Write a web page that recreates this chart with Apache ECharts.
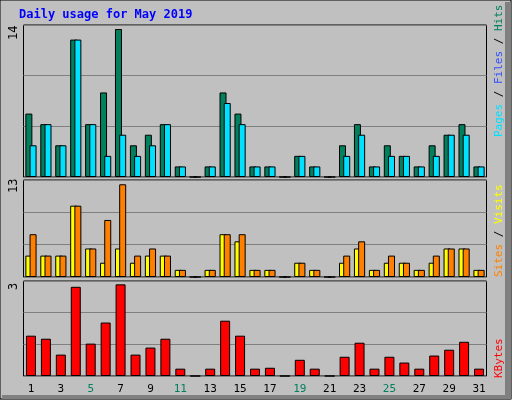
<!DOCTYPE html>
<html><head><meta charset="utf-8">
<script src="https://cdn.jsdelivr.net/npm/echarts@6/dist/echarts.min.js"></script>
<style>html,body{margin:0;padding:0;background:#c0c0c0}#c{width:512px;height:400px}</style>
</head><body><div id="c"></div>
<script>
const days = ['1','2','3','4','5','6','7','8','9','10','11','12','13','14','15','16','17','18','19','20','21','22','23','24','25','26','27','28','29','30','31'];
const weekend = ['4','5','11','12','18','19','25','26'];
const hits  = [6,5,3,13,5,8,14,3,4,5,1,0,1,8,6,1,1,0,2,1,0,3,5,1,3,2,1,3,4,5,1];
const pages = [3,5,3,13,5,2,4,2,3,5,1,0,1,7,5,1,1,0,2,1,0,2,4,1,2,2,1,2,4,4,1];
const sites = [3,3,3,10,4,2,4,2,3,3,1,0,1,6,5,1,1,0,2,1,0,2,4,1,2,2,1,2,4,4,1];
const visits= [6,3,3,10,4,8,13,3,4,3,1,0,1,6,6,1,1,0,2,1,0,3,5,1,3,2,1,3,4,4,1];
const kbytes= [1.32,1.22,0.70,2.92,1.06,1.75,3.0,0.70,0.93,1.22,0.24,0,0.24,1.81,1.32,0.24,0.27,0,0.53,0.24,0,0.63,1.09,0.24,0.63,0.44,0.24,0.67,0.86,1.12,0.24];
const maxLabels = ['14','13','3'];

const ch = echarts.init(document.getElementById('c'));
const mono = 'DejaVu Sans Mono';
const grids = [{top:25,height:152},{top:180,height:97},{top:281,height:95}];
const ymax = [14.38,13.6,3.11];
const bs = {borderColor:'#000',borderWidth:1};
function vtext(x,y,parts){
  return {type:'text',x:x,y:y,rotation:Math.PI/2,style:{rich:{},text:parts.map(p=>'{'+p[1]+'|'+p[0]+'}').join(''),
    font:'11px '+mono,rich:Object.fromEntries(parts.map(p=>[p[1],{fill:p[2],font:'11px '+mono}]))},z:10};
}
ch.setOption({
  animation:false,
  backgroundColor:'#c0c0c0',
  grid:grids.map(g=>({left:23.5,width:463,top:g.top,height:g.height,show:true,borderColor:'#000',borderWidth:1,backgroundColor:'#c0c0c0'})),
  xAxis:[0,1,2].map(i=>({type:'category',gridIndex:i,data:days,axisLine:{show:false},axisTick:{show:false},
    axisLabel:{show:i===2,margin:8,fontFamily:mono,fontSize:11,color:(v)=>weekend.includes(v)?'#00805c':'#000'}})),
  yAxis:[0,1,2].map(i=>({type:'value',gridIndex:i,min:0,max:ymax[i],interval:ymax[i]/3,axisLabel:{show:false},axisLine:{show:false},axisTick:{show:false},
    splitLine:{lineStyle:{color:'#808080',width:1}}})),
  series:[
    {type:'bar',xAxisIndex:0,yAxisIndex:0,data:hits,barWidth:7,barGap:'-40%',itemStyle:Object.assign({color:'#00805c'},bs)},
    {type:'bar',xAxisIndex:0,yAxisIndex:0,data:pages,barWidth:7,barGap:'-40%',itemStyle:Object.assign({color:'#00e0ff'},bs)},
    {type:'bar',xAxisIndex:1,yAxisIndex:1,data:sites,barWidth:7,barGap:'-40%',itemStyle:Object.assign({color:'#ffff00'},bs)},
    {type:'bar',xAxisIndex:1,yAxisIndex:1,data:visits,barWidth:7,barGap:'-40%',itemStyle:Object.assign({color:'#ff8000'},bs)},
    {type:'bar',xAxisIndex:2,yAxisIndex:2,data:kbytes,barWidth:10,itemStyle:Object.assign({color:'#ff0000'},bs)}
  ],
  graphic:[
    {type:'rect',shape:{x:0,y:0,width:511,height:399},style:{fill:'none',stroke:'#000',lineWidth:1},z:-1},
    {type:'rect',shape:{x:505,y:2,width:6,height:397},style:{fill:'#808080'},z:-1},
    {type:'rect',shape:{x:2,y:395,width:509,height:4},style:{fill:'#808080'},z:-1},
    {type:'text',x:19,y:9,style:{text:'Daily usage for May 2019',font:'bold 12px '+mono,fill:'#0000ff'}},
    {type:'text',x:8,y:40,rotation:Math.PI/2,style:{text:maxLabels[0],font:'12px '+mono,fill:'#000'}},
    {type:'text',x:8,y:193,rotation:Math.PI/2,style:{text:maxLabels[1],font:'12px '+mono,fill:'#000'}},
    {type:'text',x:8,y:290,rotation:Math.PI/2,style:{text:maxLabels[2],font:'12px '+mono,fill:'#000'}},
    vtext(494,137,[['Pages','a','#00e0ff'],[' / ','s','#000'],['Files','b','#3050ff'],[' / ','t','#000'],['Hits','c','#00805c']]),
    vtext(494,277,[['Sites','a','#ff8000'],[' / ','s','#000'],['Visits','b','#ffff00']]),
    vtext(494,378,[['KBytes','a','#ff0000']])
  ]
});
</script></body></html>
